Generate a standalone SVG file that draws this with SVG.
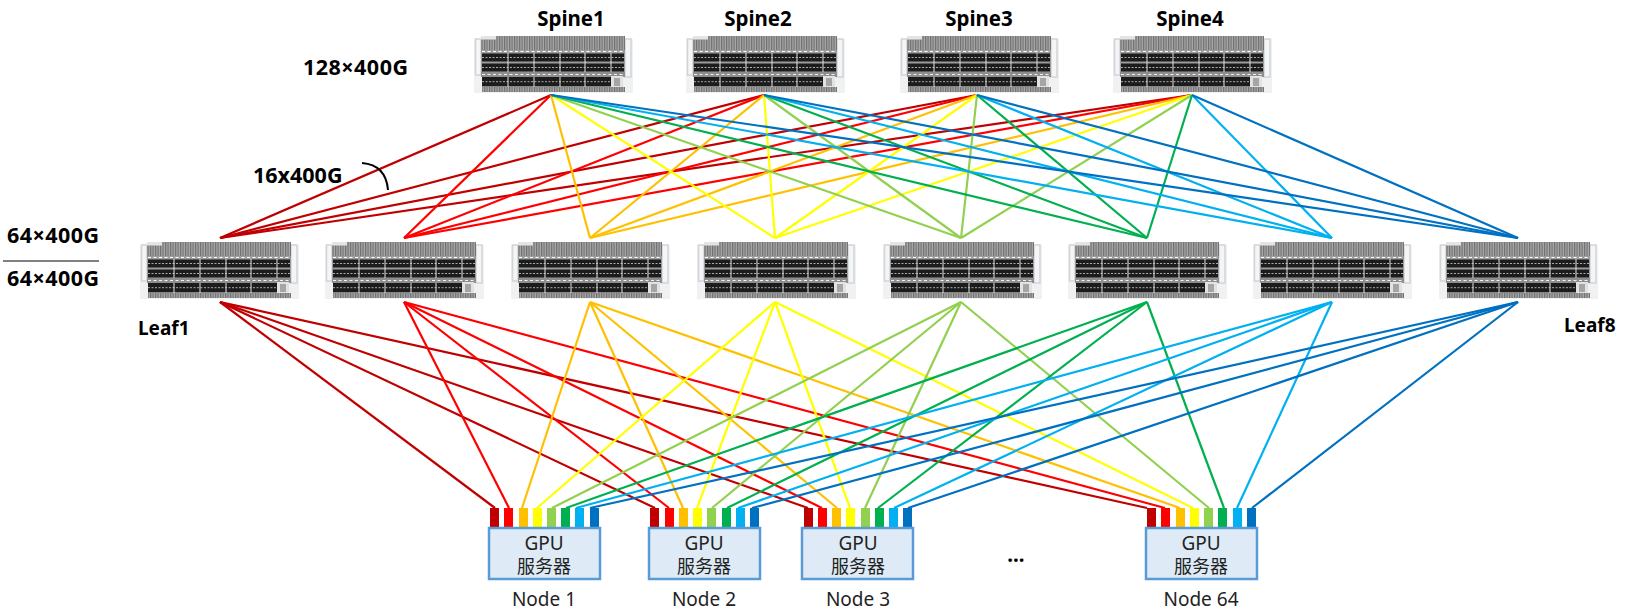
<svg xmlns="http://www.w3.org/2000/svg" width="1625" height="613" viewBox="0 0 1625 613">
<style>
text{font-family:"Noto Sans","Noto Sans CJK SC",sans-serif;fill:#000}
.b{font-weight:700;font-size:20.500px}
.t{font-weight:700;font-size:21.500px}
.m{text-anchor:middle}
.gpu{font-size:19px;text-anchor:middle;fill:#222}
.cjk{font-size:18px;text-anchor:middle;fill:#222;font-family:"Noto Sans CJK SC","Noto Sans",sans-serif}
.lab{font-size:19px;text-anchor:middle;fill:#222}
#connectors line{stroke-width:2.200;fill:none}
.c1{stroke:#C00000;fill:#C00000}.c2{stroke:#FF0000;fill:#FF0000}.c3{stroke:#FFC000;fill:#FFC000}.c4{stroke:#FFFF00;fill:#FFFF00}
.c5{stroke:#92D050;fill:#92D050}.c6{stroke:#00B050;fill:#00B050}.c7{stroke:#00B0F0;fill:#00B0F0}.c8{stroke:#0070C0;fill:#0070C0}
.box{fill:#DEEBF7;stroke:#5B9BD5;stroke-width:2.500}
.p{stroke:none}
</style>
<defs>
<pattern id="grille" patternUnits="userSpaceOnUse" width="2.500" height="4">
<rect width="2.500" height="4" fill="#8e8e8e"/><rect width="0.8" height="4" fill="#707070"/><rect x="1.600" width="0.8" height="4" fill="#ababab"/>
</pattern>
<symbol id="sw" viewBox="0 0 159 57" width="159" height="57" overflow="visible">
<rect x="0" y="3" width="159" height="54" fill="#f0f1f3"/>
<rect x="1.500" y="3" width="5.500" height="36" fill="#f4f5f7" stroke="#d2d4d8" stroke-width="1.500"/>
<rect x="151" y="3" width="6" height="38" fill="#f4f5f7" stroke="#d2d4d8" stroke-width="1.500"/>
<rect x="7" y="0" width="144" height="15" fill="url(#grille)"/>
<rect x="7" y="0" width="15" height="3.500" fill="#e4e4e4"/>
<rect x="7" y="14" width="144" height="27" fill="#9c9c9c"/>
<line x1="8" y1="15.500" x2="151" y2="15.500" stroke="#fff" stroke-width="1" stroke-dasharray="3 2.500"/>
<rect x="8" y="17.500" width="142" height="8" fill="#1c1c1c"/>
<rect x="8" y="27.500" width="142" height="8" fill="#1c1c1c"/>
<rect x="7" y="36" width="144" height="5" fill="#8e8e8e"/>
<line x1="8" y1="38.500" x2="150" y2="38.500" stroke="#f2f2f2" stroke-width="1" stroke-dasharray="3 2.500"/>
<rect x="8" y="41" width="129" height="9.500" fill="#1c1c1c"/>
<line x1="8" y1="21.500" x2="150" y2="21.500" stroke="#aaa" stroke-width="1" stroke-dasharray="2 1.500"/>
<line x1="8" y1="31.500" x2="150" y2="31.500" stroke="#aaa" stroke-width="1" stroke-dasharray="2 1.500"/>
<line x1="8" y1="45.700" x2="137" y2="45.700" stroke="#aaa" stroke-width="1" stroke-dasharray="2 1.500"/>
<path d="M34 17V36M60 17V36M86 17V36M111 17V36M137 17V36M34 41V51M60 41V51M86 41V51M111 41V51" stroke="#e4e4e4" stroke-width="1" fill="none"/>
<rect x="137" y="40" width="12" height="11" fill="#e2e2e2"/>
<rect x="140" y="42" width="6" height="8" fill="#a5a5a5"/>
<rect x="8" y="51" width="143" height="5" fill="url(#grille)"/>
</symbol>
</defs>

<g id="connectors">
<line class="c1" x1="551" y1="95" x2="220" y2="238"/><line class="c1" x1="764" y1="95" x2="220" y2="238"/><line class="c1" x1="977" y1="95" x2="220" y2="238"/><line class="c1" x1="1192" y1="95" x2="220" y2="238"/>
<line class="c2" x1="551" y1="95" x2="404" y2="238"/><line class="c2" x1="764" y1="95" x2="404" y2="238"/><line class="c2" x1="977" y1="95" x2="404" y2="238"/><line class="c2" x1="1192" y1="95" x2="404" y2="238"/>
<line class="c3" x1="551" y1="95" x2="590" y2="238"/><line class="c3" x1="764" y1="95" x2="590" y2="238"/><line class="c3" x1="977" y1="95" x2="590" y2="238"/><line class="c3" x1="1192" y1="95" x2="590" y2="238"/>
<line class="c4" x1="551" y1="95" x2="775" y2="238"/><line class="c4" x1="764" y1="95" x2="775" y2="238"/><line class="c4" x1="977" y1="95" x2="775" y2="238"/><line class="c4" x1="1192" y1="95" x2="775" y2="238"/>
<line class="c5" x1="551" y1="95" x2="961" y2="238"/><line class="c5" x1="764" y1="95" x2="961" y2="238"/><line class="c5" x1="977" y1="95" x2="961" y2="238"/><line class="c5" x1="1192" y1="95" x2="961" y2="238"/>
<line class="c6" x1="551" y1="95" x2="1147" y2="238"/><line class="c6" x1="764" y1="95" x2="1147" y2="238"/><line class="c6" x1="977" y1="95" x2="1147" y2="238"/><line class="c6" x1="1192" y1="95" x2="1147" y2="238"/>
<line class="c7" x1="551" y1="95" x2="1332" y2="238"/><line class="c7" x1="764" y1="95" x2="1332" y2="238"/><line class="c7" x1="977" y1="95" x2="1332" y2="238"/><line class="c7" x1="1192" y1="95" x2="1332" y2="238"/>
<line class="c8" x1="551" y1="95" x2="1518" y2="238"/><line class="c8" x1="764" y1="95" x2="1518" y2="238"/><line class="c8" x1="977" y1="95" x2="1518" y2="238"/><line class="c8" x1="1192" y1="95" x2="1518" y2="238"/>

<line class="c1" x1="220" y1="302" x2="495" y2="508"/><line class="c1" x1="220" y1="302" x2="655" y2="508"/><line class="c1" x1="220" y1="302" x2="808" y2="508"/><line class="c1" x1="220" y1="302" x2="1147" y2="508"/>
<line class="c2" x1="404" y1="302" x2="509" y2="508"/><line class="c2" x1="404" y1="302" x2="669" y2="508"/><line class="c2" x1="404" y1="302" x2="822" y2="508"/><line class="c2" x1="404" y1="302" x2="1165" y2="508"/>
<line class="c3" x1="590" y1="302" x2="522" y2="508"/><line class="c3" x1="590" y1="302" x2="683" y2="508"/><line class="c3" x1="590" y1="302" x2="837" y2="508"/><line class="c3" x1="590" y1="302" x2="1180" y2="508"/>
<line class="c4" x1="775" y1="302" x2="537" y2="508"/><line class="c4" x1="775" y1="302" x2="697" y2="508"/><line class="c4" x1="775" y1="302" x2="850" y2="508"/><line class="c4" x1="775" y1="302" x2="1193" y2="508"/>
<line class="c5" x1="961" y1="302" x2="552" y2="508"/><line class="c5" x1="961" y1="302" x2="712" y2="508"/><line class="c5" x1="961" y1="302" x2="865" y2="508"/><line class="c5" x1="961" y1="302" x2="1209" y2="508"/>
<line class="c6" x1="1147" y1="302" x2="566" y2="508"/><line class="c6" x1="1147" y1="302" x2="727" y2="508"/><line class="c6" x1="1147" y1="302" x2="878" y2="508"/><line class="c6" x1="1147" y1="302" x2="1224" y2="508"/>
<line class="c7" x1="1332" y1="302" x2="576" y2="508"/><line class="c7" x1="1332" y1="302" x2="738" y2="508"/><line class="c7" x1="1332" y1="302" x2="894" y2="508"/><line class="c7" x1="1332" y1="302" x2="1237" y2="508"/>
<line class="c8" x1="1518" y1="302" x2="590" y2="508"/><line class="c8" x1="1518" y1="302" x2="752" y2="508"/><line class="c8" x1="1518" y1="302" x2="908" y2="508"/><line class="c8" x1="1518" y1="302" x2="1252" y2="508"/>
</g>

<g id="spine1"><text class="b m" x="571" y="26">Spine1</text><use href="#sw" x="474" y="36"/></g>
<g id="spine2"><text class="b m" x="758" y="26">Spine2</text><use href="#sw" x="686" y="36"/></g>
<g id="spine3"><text class="b m" x="979" y="26">Spine3</text><use href="#sw" x="900" y="36"/></g>
<g id="spine4"><text class="b m" x="1190" y="26">Spine4</text><use href="#sw" x="1113" y="36"/></g>

<g id="leaf1"><use href="#sw" x="140" y="242"/><text class="b" font-size="19" style="font-size:19px" x="138" y="335">Leaf1</text></g>
<g id="leaf2"><use href="#sw" x="325" y="242"/></g>
<g id="leaf3"><use href="#sw" x="511" y="242"/></g>
<g id="leaf4"><use href="#sw" x="697" y="242"/></g>
<g id="leaf5"><use href="#sw" x="883" y="242"/></g>
<g id="leaf6"><use href="#sw" x="1068" y="242"/></g>
<g id="leaf7"><use href="#sw" x="1253" y="242"/></g>
<g id="leaf8"><use href="#sw" x="1439" y="242"/><text class="b" style="font-size:19px" x="1564" y="332">Leaf8</text></g>

<g id="labels">
<text class="t" x="303" y="75" textLength="105" lengthAdjust="spacing">128×400G</text>
<text class="t" x="253" y="183">16x400G</text>
<path d="M362 163Q386 165 388 190" fill="none" stroke="#000" stroke-width="2"/>
<text class="t" x="7" y="243" textLength="92" lengthAdjust="spacing">64×400G</text>
<line x1="3" y1="261" x2="99" y2="261" stroke="#808080" stroke-width="2"/>
<text class="t" x="7" y="286" textLength="92" lengthAdjust="spacing">64×400G</text>
<text class="b m" x="1016" y="562">...</text>
</g>

<g id="node1">
<rect class="p c1" x="490" y="508" width="9" height="19"/><rect class="p c2" x="504" y="508" width="9" height="19"/><rect class="p c3" x="519" y="508" width="9" height="19"/><rect class="p c4" x="533" y="508" width="9" height="19"/><rect class="p c5" x="547" y="508" width="9" height="19"/><rect class="p c6" x="561" y="508" width="9" height="19"/><rect class="p c7" x="575" y="508" width="9" height="19"/><rect class="p c8" x="590" y="508" width="9" height="19"/>
<rect class="box" x="489" y="528" width="111" height="51"/>
<text class="gpu" x="544" y="550">GPU</text><text class="cjk" x="544" y="573">服务器</text>
<text class="lab" x="544" y="606">Node 1</text>
</g>
<g id="node2">
<rect class="p c1" x="650" y="508" width="9" height="19"/><rect class="p c2" x="665" y="508" width="9" height="19"/><rect class="p c3" x="679" y="508" width="9" height="19"/><rect class="p c4" x="693" y="508" width="9" height="19"/><rect class="p c5" x="707" y="508" width="9" height="19"/><rect class="p c6" x="722" y="508" width="9" height="19"/><rect class="p c7" x="736" y="508" width="9" height="19"/><rect class="p c8" x="750" y="508" width="9" height="19"/>
<rect class="box" x="649" y="528" width="111" height="51"/>
<text class="gpu" x="704" y="550">GPU</text><text class="cjk" x="704" y="573">服务器</text>
<text class="lab" x="704" y="606">Node 2</text>
</g>
<g id="node3">
<rect class="p c1" x="804" y="508" width="9" height="19"/><rect class="p c2" x="818" y="508" width="9" height="19"/><rect class="p c3" x="832" y="508" width="9" height="19"/><rect class="p c4" x="846" y="508" width="9" height="19"/><rect class="p c5" x="861" y="508" width="9" height="19"/><rect class="p c6" x="875" y="508" width="9" height="19"/><rect class="p c7" x="889" y="508" width="9" height="19"/><rect class="p c8" x="903" y="508" width="9" height="19"/>
<rect class="box" x="802" y="528" width="111" height="51"/>
<text class="gpu" x="858" y="550">GPU</text><text class="cjk" x="858" y="573">服务器</text>
<text class="lab" x="858" y="606">Node 3</text>
</g>
<g id="node64">
<rect class="p c1" x="1147" y="508" width="9" height="19"/><rect class="p c2" x="1161" y="508" width="9" height="19"/><rect class="p c3" x="1176" y="508" width="9" height="19"/><rect class="p c4" x="1190" y="508" width="9" height="19"/><rect class="p c5" x="1204" y="508" width="9" height="19"/><rect class="p c6" x="1218" y="508" width="9" height="19"/><rect class="p c7" x="1233" y="508" width="9" height="19"/><rect class="p c8" x="1247" y="508" width="9" height="19"/>
<rect class="box" x="1146" y="528" width="111" height="51"/>
<text class="gpu" x="1201" y="550">GPU</text><text class="cjk" x="1201" y="573">服务器</text>
<text class="lab" x="1201" y="606">Node 64</text>
</g>
</svg>
